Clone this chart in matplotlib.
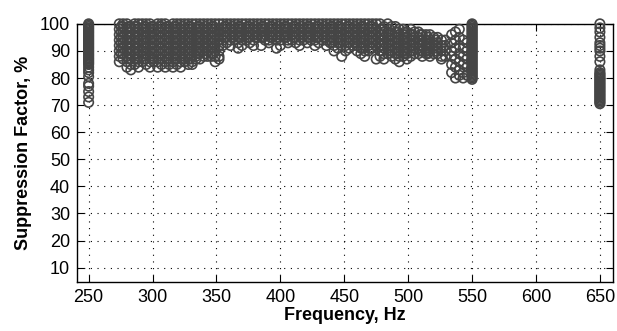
import matplotlib
matplotlib.use("Agg")
import matplotlib.pyplot as plt

plt.rcParams['font.family'] = ['Liberation Sans', 'DejaVu Sans']

# isolated frequency columns
f250_y = [100, 99.5, 99, 98.5, 98, 97.5, 97, 96.5, 96, 95.5, 95, 94.5, 94, 93.5,
          93, 92.5, 92, 91.5, 91, 90.5, 90, 89.5, 89, 88.5, 88, 87.5, 87, 86.5,
          86, 85.5, 85, 84, 83, 82, 80.5, 78, 77, 75, 73, 71]
f550_y = [100, 99.5, 99, 98.5, 98, 97.5, 97, 96.5, 96, 95.5, 95, 94.5, 94, 93.5,
          93, 92.5, 92, 91.5, 91, 90.5, 90, 89.5, 89, 88.5, 88, 87.5, 87, 86.5,
          86, 85.5, 85, 84.5, 84, 83.5, 83, 82.5, 82, 81.5, 81, 80.5, 80, 79.5]
f650_y = [100, 98.5, 97, 95, 93, 92, 91, 90, 88, 86, 83, 82, 81.5, 81, 80.5, 80,
          79.5, 79, 78.5, 78, 77.5, 77, 76.5, 76, 75.5, 75, 74.5, 74, 73.5, 73,
          72.5, 72, 71.5, 71, 70.5]

# main band, one list of suppression values per frequency
band_f = [274, 277, 280, 283, 286, 289, 292, 295, 298, 301, 304, 307, 310, 313,
          316, 319, 322, 325, 328, 331, 334, 337, 340, 343, 346, 349, 352,
          355, 358, 361, 364, 367, 370, 373, 376, 379, 382, 385, 388, 391, 394,
          397, 400, 403, 406, 409, 412, 415, 418, 421, 424, 427, 430, 433, 436,
          439, 442, 445, 448, 451, 454, 457, 460, 463, 466, 469, 472, 475,
          478, 481, 484, 487, 490, 493, 496, 499, 502, 505, 508, 511, 514, 517,
          520, 523, 526, 529, 534, 537, 540, 543, 546]
band_y = [
    [100, 98, 96, 94, 92, 90, 88, 86],
    [100, 99, 97, 95, 93, 91, 89, 87],
    [100, 98, 96, 94, 92, 90, 88, 86, 84],
    [99, 97, 95, 93, 91, 89, 87, 85, 83],
    [100, 99, 97, 95, 93, 91, 89, 87, 85],
    [100, 98, 96, 94, 92, 90, 88, 86, 84],
    [100, 98, 96, 94, 92, 90, 88, 86],
    [100, 99, 97, 95, 93, 91, 89, 87, 85],
    [100, 98, 96, 94, 92, 90, 88, 86, 84],
    [99, 97, 95, 93, 91, 89, 87, 86],
    [100, 98, 96, 94, 92, 90, 88, 86, 84],
    [100, 99, 97, 95, 93, 91, 89, 87, 85],
    [100, 98, 96, 94, 92, 90, 88, 86, 84],
    [99, 97, 95, 93, 91, 89, 87, 85],
    [100, 98, 96, 94, 92, 90, 88, 86, 84],
    [100, 99, 97, 95, 93, 91, 89, 87, 85],
    [100, 98, 96, 94, 92, 90, 88, 86, 84],
    [100, 98, 96, 94, 92, 90, 88, 86],
    [100, 99, 97, 95, 93, 91, 89, 87, 85],
    [100, 98, 96, 94, 92, 90, 88, 86, 85],
    [100, 98, 96, 94, 92, 90, 88, 87],
    [100, 99, 97, 95, 93, 91, 89, 87],
    [100, 98, 96, 94, 92, 90, 88],
    [100, 98, 96, 94, 92, 90, 88],
    [100, 99, 97, 95, 93, 91, 89, 88],
    [100, 98, 96, 94, 92, 90, 88, 86],
    [100, 98, 96, 94, 92, 90, 88, 87],
    [100, 98, 96, 94, 92],
    [100, 99, 97, 95, 93],
    [100, 98, 96, 94, 92],
    [100, 98, 96, 94],
    [100, 99, 97, 95, 93, 91],
    [100, 98, 96, 94, 92],
    [100, 98, 96, 94],
    [100, 99, 97, 95, 93],
    [100, 98, 96, 94, 92],
    [100, 98, 96, 95],
    [100, 99, 97, 95, 92],
    [100, 98, 96, 94],
    [100, 98, 96, 94, 93],
    [100, 99, 97, 95],
    [100, 98, 96, 94, 91],
    [100, 98, 96, 94, 92],
    [100, 99, 97, 95],
    [100, 98, 96, 94, 93],
    [100, 98, 96, 94],
    [100, 99, 97, 95, 93],
    [100, 98, 96, 94, 92],
    [100, 98, 96, 94],
    [100, 99, 97, 95, 93],
    [100, 98, 96, 94],
    [100, 98, 96, 94, 92],
    [100, 99, 97, 95, 93],
    [100, 98, 96, 94],
    [100, 98, 96, 94, 92],
    [100, 99, 97, 95, 93],
    [100, 98, 96, 94, 92, 90],
    [100, 99, 97, 95, 93, 91],
    [100, 98, 96, 94, 92, 88],
    [100, 98, 96, 94, 92, 90],
    [100, 99, 97, 95, 93, 91],
    [100, 98, 96, 94, 92],
    [100, 98, 96, 94, 92, 90],
    [100, 99, 97, 95, 93, 91, 89],
    [100, 98, 96, 94, 92, 90, 88],
    [100, 98, 96, 94, 92, 90],
    [100, 99, 97, 95, 93, 91],
    [100, 98, 96, 94, 92, 87],
    [100, 98, 96, 94, 92, 90, 88],
    [99, 97, 95, 93, 91, 89, 87],
    [100, 97, 95, 93, 91, 89],
    [99, 96, 94, 92, 90, 88],
    [99, 97, 95, 93, 91, 89, 87],
    [98, 96, 94, 92, 90, 88, 86],
    [98, 96, 94, 92, 90, 88],
    [97, 95, 93, 91, 89, 87],
    [98, 96, 94, 92, 90, 88],
    [97, 95, 93, 91, 89],
    [97, 95, 93, 91, 89],
    [96, 94, 92, 90, 88],
    [96, 94, 92, 90, 89],
    [96, 94, 92, 90, 88],
    [95, 93, 91, 89],
    [95, 93, 91, 89],
    [94, 92, 90, 88, 87],
    [94, 92, 90, 88],
    [96, 93, 90, 88, 85, 82],
    [97, 94, 91, 87, 84, 80],
    [98, 95, 92, 89, 86, 83, 81],
    [94, 91, 88, 85, 82, 80],
    [93, 90, 87, 84, 81],
]

# denser core of the band, between the columns above
core_f = [275.5, 281.5, 287.5, 293.5, 299.5, 305.5, 311.5, 317.5, 323.5, 329.5,
          335.5, 341.5, 347.5, 356.5, 362.5, 368.5, 374.5, 380.5, 386.5, 392.5,
          398.5, 404.5, 410.5, 416.5, 422.5, 428.5, 434.5, 440.5, 446.5, 452.5,
          458.5, 464.5, 470.5, 479.5, 485.5, 491.5, 497.5, 503.5, 509.5, 515.5,
          521.5]
core_y = [
    [99, 97, 95, 93, 91, 89],
    [99, 97, 95, 93, 91, 89, 87],
    [99, 97, 95, 93, 91, 89, 87],
    [99, 97, 95, 93, 91, 89, 87],
    [99, 97, 95, 93, 91, 89, 87],
    [99, 97, 95, 93, 91, 89, 87],
    [99, 97, 95, 93, 91, 89, 87],
    [99, 97, 95, 93, 91, 89, 87],
    [99, 97, 95, 93, 91, 89, 87],
    [99, 97, 95, 93, 91, 89, 87],
    [99, 97, 95, 93, 91, 89],
    [99, 97, 95, 93, 91, 89],
    [99, 97, 95, 93, 91, 89],
    [99, 97, 95],
    [99, 97, 95],
    [99, 97, 95],
    [99, 97, 95],
    [99, 97, 95],
    [99, 97, 95],
    [99, 97, 95],
    [99, 97, 95],
    [99, 97, 95],
    [99, 97, 95],
    [99, 97, 95],
    [99, 97, 95],
    [99, 97, 95],
    [99, 97, 95],
    [99, 97, 95, 93],
    [99, 97, 95, 93],
    [99, 97, 95, 93],
    [99, 97, 95, 93],
    [99, 97, 95, 93, 91],
    [99, 97, 95, 93, 91],
    [98, 96, 94, 92, 90],
    [98, 96, 94, 92, 90],
    [97, 95, 93, 91, 89],
    [97, 95, 93, 91, 89],
    [96, 94, 92, 90],
    [96, 94, 92, 90],
    [95, 93, 91, 89],
    [94, 92, 90],
]

xs, ys = [], []
for f, col in zip(band_f + core_f, band_y + core_y):
    xs += [f] * len(col)
    ys += col
xs += [250] * len(f250_y) + [550] * len(f550_y) + [650] * len(f650_y)
ys += f250_y + f550_y + f650_y

fig = plt.figure(figsize=(6.17, 3.31), dpi=100)
ax = fig.add_axes([0.125, 0.148, 0.868, 0.78])
ax.scatter(xs, ys, s=46, facecolors='none', edgecolors='#454545',
           linewidths=1.2, clip_on=False, zorder=3)

ax.set_xlim(241, 660)
ax.set_ylim(4.7, 100)
ax.set_xticks(range(250, 651, 50))
ax.set_yticks(range(10, 101, 10))
ax.grid(True, linestyle=(0, (1, 5)), color='black', linewidth=0.8)
ax.tick_params(direction='in', top=True, right=True, length=5, labelsize=13,
               pad=5)
for s in ax.spines.values():
    s.set_linewidth(1.0)
ax.set_xlabel('Frequency, Hz', fontsize=13, fontweight='bold', labelpad=1)
ax.set_ylabel('Suppression Factor, %', fontsize=13, fontweight='bold',
              labelpad=6)

fig.savefig('out.png', dpi=100)
